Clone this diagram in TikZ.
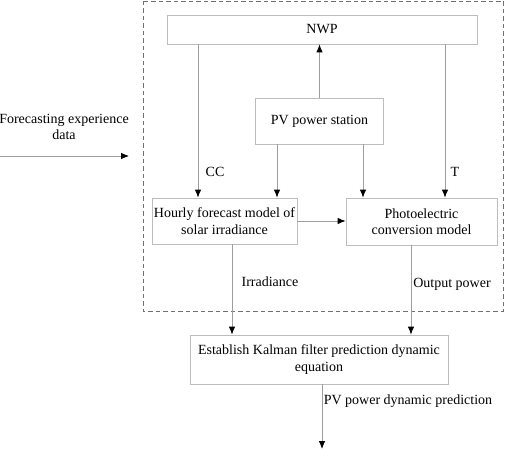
\documentclass[tikz,border=0pt]{standalone}
\usepackage{fontspec}
\setmainfont{Liberation Serif}
\usetikzlibrary{arrows.meta}
\definecolor{boxline}{HTML}{BDBDBD}
\definecolor{arrline}{HTML}{9E9E9E}
\definecolor{dashline}{HTML}{707070}

\begin{document}
\begin{tikzpicture}[x=1pt,y=-1pt,
  font=\fontsize{14}{16.5}\selectfont,
  block/.style={draw=boxline,line width=0.8pt,align=center,inner sep=2pt},
  arr/.style={draw=arrline,line width=0.8pt,-{Latex[black,length=8pt,width=6.5pt]}}]
\useasboundingbox (0,0) rectangle (505,449);
% frame of the model
\draw[dashline,dash pattern=on 4.5pt off 3pt,line width=0.8pt] (143,1) rectangle (503,311);
% boxes
\node[block,minimum width=310pt,minimum height=29pt] (nwp) at (322,29.5) {NWP};
\node[block,minimum width=128pt,minimum height=46pt] (station) at (319.5,121) {PV power station};
\node[block,minimum width=145pt,minimum height=46pt] (hourly) at (224.5,221) {Hourly forecast model of\\solar irradiance};
\node[block,minimum width=151pt,minimum height=47pt] (photo) at (421.5,221.5) {Photoelectric\\conversion model};
\node[block,minimum width=258pt,minimum height=49pt] (kalman) at (319,359.5) {Establish Kalman filter prediction dynamic\\equation};
% helper coordinates
\coordinate (ccx) at (198,0);
\coordinate (tx) at (445,0);
\coordinate (irx) at (232,0);
\coordinate (opx) at (411,0);
\coordinate (inA) at (0,156);
\coordinate (inB) at (129,156);
\coordinate (outB) at (322,449);
% connectors
\draw[arr] (station.north) -- (station.north |- nwp.south);
\draw[arr] (nwp.south -| ccx) -- (hourly.north -| ccx);
\draw[arr] (nwp.south -| tx) -- (photo.north -| tx);
\draw[arr] (station.south -| 277,0) -- (hourly.north -| 277,0);
\draw[arr] (station.south -| 363,0) -- (photo.north -| 363,0);
\draw[arr] (hourly.east) -- (photo.west |- hourly.east);
\draw[arr] (hourly.south -| irx) -- (kalman.north -| irx);
\draw[arr] (photo.south -| opx) -- (kalman.north -| opx);
\draw[arr] (kalman.south -| outB) -- (outB);
\draw[arr] (inA) -- (inB);
% labels
\node (cc) at (215,172) {CC};
\node (t) at (455,172) {T};
\node (irr) at (270,282) {Irradiance};
\node (outp) at (452,284) {Output power};
\node (pvdyn) at (408,401) {PV power dynamic prediction};
\node[align=center] (exp) at (64,127) {Forecasting experience\\data};
\end{tikzpicture}
\end{document}
